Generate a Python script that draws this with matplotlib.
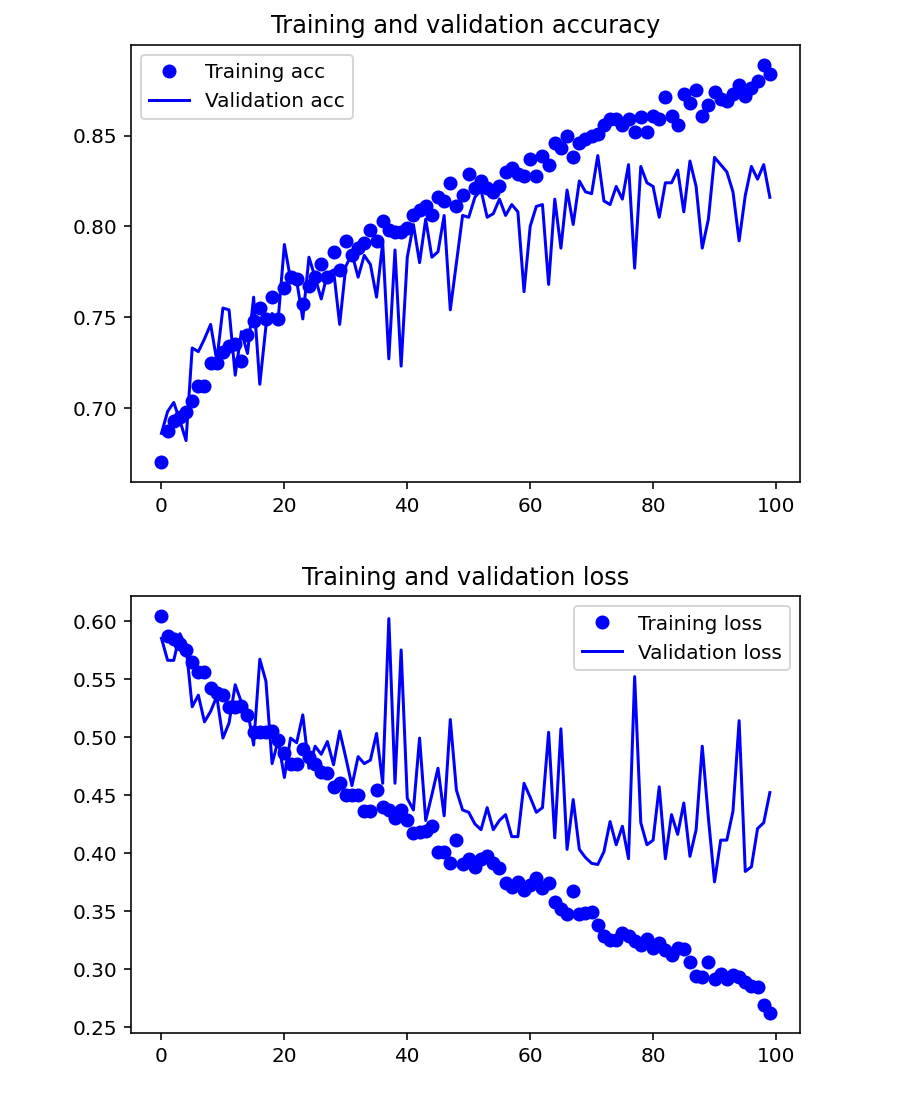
import matplotlib
matplotlib.use("Agg")
import matplotlib.pyplot as plt

epochs = list(range(100))

train_acc = [0.670, 0.687, 0.693, 0.695, 0.698, 0.704, 0.712, 0.712, 0.725, 0.725,
             0.731, 0.734, 0.735, 0.726, 0.740, 0.748, 0.755, 0.749, 0.761, 0.749,
             0.766, 0.772, 0.771, 0.757, 0.767, 0.772, 0.779, 0.772, 0.786, 0.776,
             0.792, 0.784, 0.788, 0.791, 0.798, 0.792, 0.803, 0.798, 0.797, 0.797,
             0.799, 0.806, 0.809, 0.811, 0.806, 0.816, 0.814, 0.824, 0.811, 0.817,
             0.829, 0.821, 0.825, 0.821, 0.819, 0.822, 0.830, 0.832, 0.829, 0.828,
             0.837, 0.828, 0.839, 0.834, 0.846, 0.843, 0.850, 0.838, 0.846, 0.848,
             0.850, 0.851, 0.856, 0.859, 0.859, 0.856, 0.859, 0.852, 0.860, 0.852,
             0.861, 0.859, 0.871, 0.861, 0.856, 0.873, 0.868, 0.875, 0.861, 0.867,
             0.874, 0.870, 0.869, 0.873, 0.878, 0.872, 0.876, 0.880, 0.889, 0.884]

val_acc = [0.686, 0.698, 0.703, 0.693, 0.682, 0.733, 0.731, 0.738, 0.746, 0.726,
           0.755, 0.754, 0.718, 0.742, 0.730, 0.761, 0.713, 0.745, 0.752, 0.749,
           0.790, 0.771, 0.770, 0.749, 0.783, 0.772, 0.760, 0.774, 0.776, 0.746,
           0.778, 0.785, 0.772, 0.784, 0.779, 0.761, 0.791, 0.727, 0.787, 0.723,
           0.783, 0.801, 0.780, 0.804, 0.783, 0.786, 0.806, 0.754, 0.780, 0.806,
           0.805, 0.816, 0.820, 0.805, 0.807, 0.815, 0.806, 0.812, 0.808, 0.764,
           0.800, 0.811, 0.812, 0.768, 0.815, 0.788, 0.820, 0.801, 0.825, 0.819,
           0.818, 0.839, 0.814, 0.812, 0.822, 0.815, 0.834, 0.777, 0.833, 0.824,
           0.822, 0.805, 0.824, 0.824, 0.831, 0.808, 0.836, 0.822, 0.788, 0.804,
           0.838, 0.834, 0.830, 0.819, 0.792, 0.817, 0.833, 0.826, 0.834, 0.816]

train_loss = [0.604, 0.587, 0.584, 0.580, 0.575, 0.565, 0.556, 0.556, 0.542, 0.538,
              0.536, 0.526, 0.526, 0.527, 0.519, 0.504, 0.504, 0.504, 0.505, 0.497,
              0.486, 0.477, 0.477, 0.490, 0.483, 0.477, 0.470, 0.469, 0.457, 0.460,
              0.450, 0.450, 0.450, 0.436, 0.436, 0.454, 0.440, 0.437, 0.430, 0.437,
              0.428, 0.417, 0.418, 0.419, 0.423, 0.401, 0.401, 0.391, 0.411, 0.390,
              0.395, 0.388, 0.395, 0.397, 0.391, 0.387, 0.374, 0.371, 0.375, 0.368,
              0.372, 0.378, 0.370, 0.374, 0.358, 0.352, 0.347, 0.367, 0.347, 0.348,
              0.349, 0.338, 0.328, 0.325, 0.325, 0.331, 0.328, 0.324, 0.321, 0.326,
              0.318, 0.322, 0.316, 0.312, 0.318, 0.317, 0.306, 0.294, 0.293, 0.306,
              0.291, 0.296, 0.291, 0.295, 0.293, 0.289, 0.285, 0.284, 0.269, 0.262]

val_loss = [0.585, 0.566, 0.566, 0.589, 0.578, 0.526, 0.536, 0.513, 0.522, 0.535,
            0.499, 0.512, 0.545, 0.530, 0.523, 0.493, 0.567, 0.548, 0.477, 0.497,
            0.465, 0.499, 0.495, 0.519, 0.473, 0.492, 0.485, 0.496, 0.476, 0.505,
            0.482, 0.458, 0.483, 0.477, 0.480, 0.503, 0.460, 0.602, 0.460, 0.575,
            0.447, 0.437, 0.499, 0.428, 0.450, 0.473, 0.432, 0.515, 0.454, 0.437,
            0.435, 0.425, 0.420, 0.439, 0.420, 0.428, 0.433, 0.414, 0.414, 0.460,
            0.448, 0.435, 0.439, 0.504, 0.413, 0.507, 0.403, 0.446, 0.403, 0.396,
            0.391, 0.390, 0.401, 0.427, 0.407, 0.423, 0.395, 0.552, 0.426, 0.407,
            0.411, 0.457, 0.395, 0.433, 0.416, 0.443, 0.397, 0.420, 0.492, 0.430,
            0.375, 0.411, 0.411, 0.436, 0.514, 0.384, 0.388, 0.421, 0.426, 0.452]

DPI = 144
fig = plt.figure(figsize=(899.3 / DPI, 1099.3 / DPI), dpi=DPI)
W, H = 899.0, 1099.0
LEFT, WIDTH = 131.0, 669.0

ax1 = fig.add_axes([LEFT / W, 1 - 482.4 / H, WIDTH / W, 437.2 / H])
ax1.plot(epochs, train_acc, 'bo', label='Training acc')
ax1.plot(epochs, val_acc, 'b', label='Validation acc')
ax1.set_title('Training and validation accuracy')
ax1.legend(loc='upper left')

ax2 = fig.add_axes([LEFT / W, 1 - 1032.8 / H, WIDTH / W, 436.2 / H])
ax2.plot(epochs, train_loss, 'bo', label='Training loss')
ax2.plot(epochs, val_loss, 'b', label='Validation loss')
ax2.set_title('Training and validation loss')
ax2.legend(loc='upper right')

fig.savefig('out.png', dpi=DPI)
